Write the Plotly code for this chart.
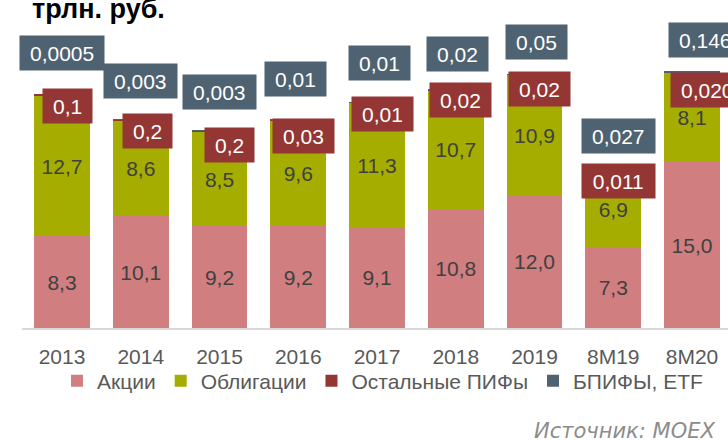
import plotly.graph_objects as go

categories = ["2013", "2014", "2015", "2016", "2017", "2018", "2019", "8M19", "8M20"]
stocks = [8.3, 10.1, 9.2, 9.2, 9.1, 10.8, 12.0, 7.3, 15.0]
bonds = [12.7, 8.6, 8.5, 9.6, 11.3, 10.7, 10.9, 6.9, 8.1]
other_funds = [0.1, 0.2, 0.2, 0.03, 0.01, 0.02, 0.02, 0.011, 0.020]
etf = [0.0005, 0.003, 0.003, 0.01, 0.01, 0.02, 0.05, 0.027, 0.146]
other_decimals = [1, 1, 1, 2, 2, 2, 2, 3, 3]
etf_decimals = [4, 3, 3, 2, 2, 2, 2, 3, 3]

names = ["Акции", "Облигации", "Остальные ПИФы", "БПИФЫ, ETF"]
colors = ["#D07E7F", "#A5AD00", "#943634", "#4F6272"]

# label placement offsets (pixels) relative to the top of each stacked bar
other_dx = [5, 7, 10, 5, 5, 5, 5, 5, 15]
other_dy = [-11, -12, -15, -16, -12, -10, -15, -10, -19]
etf_dx = [0, 0, 0, -3, 2, 2, 2, 5, 13]
etf_dy = [42, 38, 38, 41, 39, 36, 32, 35, 31]

FONT = "Liberation Sans, Arial, sans-serif"
LBL = 21

fig = go.Figure()
for vals, nm, col, show_text in [(stocks, names[0], colors[0], True),
                                 (bonds, names[1], colors[1], True),
                                 (other_funds, names[2], colors[2], False),
                                 (etf, names[3], colors[3], False)]:
    if show_text:
        fig.add_bar(x=categories, y=vals, name=nm, marker_color=col, marker_line_width=0,
                    texttemplate="%{y:.1f}", textposition="inside", insidetextanchor="middle",
                    textfont=dict(family=FONT, size=LBL, color="#404040"), textangle=0,
                    constraintext="none", hoverinfo="x+y")
    else:
        fig.add_bar(x=categories, y=vals, name=nm, marker_color=col, marker_line_width=0,
                    textposition="none", hoverinfo="x+y")


def fmt(v, d):
    return f"{v:.{d}f}".replace(".", ",")


def text_w(s, size):
    return sum(0.278 if ch == "," else 0.556 for ch in s) * size


annotations = []
for i, c in enumerate(categories):
    total = stocks[i] + bonds[i] + other_funds[i] + etf[i]
    t_other = fmt(other_funds[i], other_decimals[i])
    t_etf = fmt(etf[i], etf_decimals[i])
    for txt, dx, dy, col in [(t_etf, etf_dx[i], etf_dy[i], colors[3]),
                             (t_other, other_dx[i], other_dy[i], colors[2])]:
        annotations.append(dict(x=i, y=total, xref="x", yref="y", text=txt, showarrow=False,
                                xshift=dx, yshift=dy, bgcolor=col,
                                font=dict(family=FONT, size=LBL, color="white"),
                                width=text_w(txt, LBL) + 14, height=28, borderpad=3,
                                xanchor="center", yanchor="middle"))

W, H = 728, 441
L, R, T, B = 22, 0, 0, 113
pw, ph = W - L - R, H - T - B


def px_x(x):
    return (x - L) / pw


def px_y(y):
    return (H - B - y) / ph


annotations.append(dict(x=px_x(30), y=1, xref="paper", yref="paper", text="<b>трлн. руб.</b>",
                        showarrow=False, xanchor="left", yanchor="middle", yshift=-9,
                        font=dict(family="Liberation Sans, Arial, sans-serif", size=27, color="black")))
annotations.append(dict(x=px_x(717), y=px_y(431), xref="paper", yref="paper", text="Источник: MOEX",
                        showarrow=False, xanchor="right", yanchor="middle",
                        font=dict(family="DejaVu Sans, sans-serif", size=21, color="#8C8C8C", style="italic")))

fig.update_layout(
    width=W, height=H,
    margin=dict(l=L, r=R, t=T, b=B, pad=0),
    barmode="stack", bargap=0.29,
    separators=", ",
    paper_bgcolor="white", plot_bgcolor="white",
    showlegend=True,
    legend=dict(orientation="h", x=px_x(57), xanchor="left", y=px_y(381), yanchor="middle",
                font=dict(family=FONT, size=21, color="#595959"), traceorder="normal",
                bgcolor="rgba(0,0,0,0)", itemclick=False, itemdoubleclick=False),
    xaxis=dict(type="category", range=[-0.508, 8.457], showline=True, linecolor="#D9D9D9",
               linewidth=2, ticks="", ticklabelstandoff=9, showgrid=False, zeroline=False,
               tickfont=dict(family=FONT, size=21, color="#595959"), fixedrange=True),
    yaxis=dict(range=[0, ph / 11.05], visible=False, showgrid=False, zeroline=False, fixedrange=True),
    annotations=annotations,
    font=dict(family=FONT),
)

fig.write_html("out.html", config={"displayModeBar": False},
               post_script="document.body.style.margin='0';")
